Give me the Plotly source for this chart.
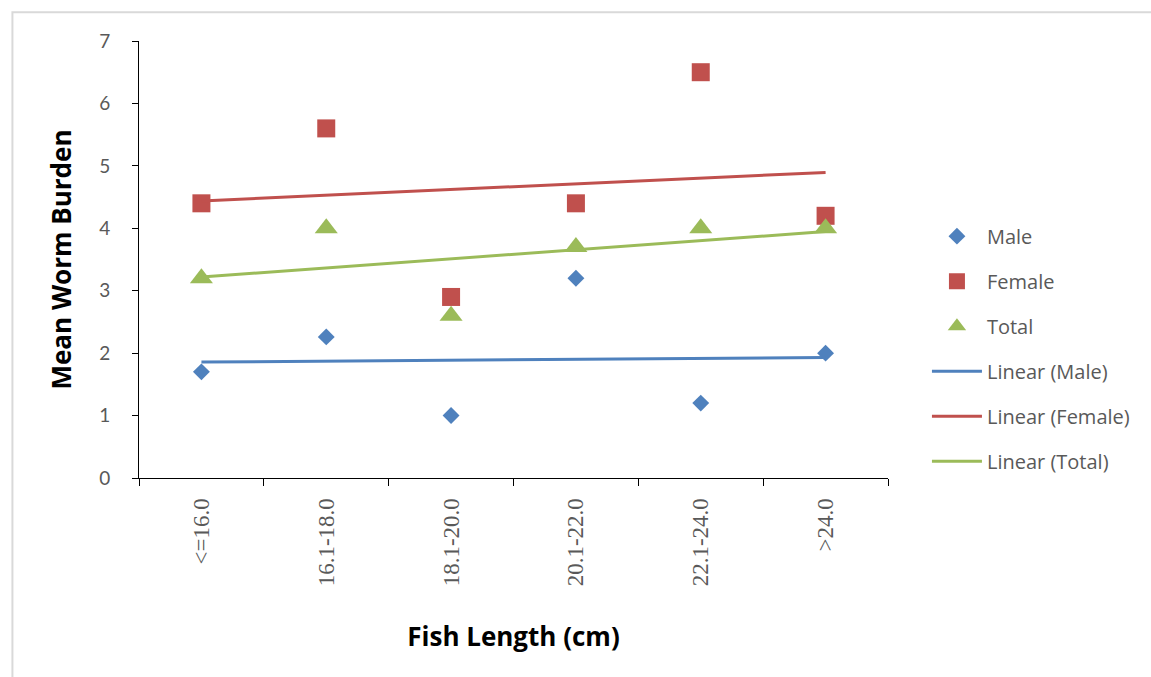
import numpy as np
import plotly.graph_objects as go

# Fish length classes (cm) and mean worm burden per sex
length_classes = ["<=16.0", "16.1-18.0", "18.1-20.0", "20.1-22.0", "22.1-24.0", ">24.0"]
male = [1.7, 2.26, 1.0, 3.2, 1.2, 2.0]
female = [4.4, 5.6, 2.9, 4.4, 6.5, 4.2]
total = [3.2, 4.0, 2.6, 3.7, 4.0, 4.0]

BLUE = "#4F81BD"
RED = "#C0504D"
GREEN = "#9BBB59"

idx = np.arange(len(length_classes))


def linear_fit(values):
    slope, intercept = np.polyfit(idx, values, 1)
    return list(slope * idx + intercept)


fig = go.Figure()

series = [
    ("Male", male, BLUE, "diamond", 13),
    ("Female", female, RED, "square", 18),
    ("Total", total, GREEN, "triangle-up", 20),
]

for i, (name, vals, col, sym, size) in enumerate(series):
    fig.add_trace(go.Scatter(
        x=length_classes, y=vals, mode="markers", name=name,
        marker=dict(symbol=sym, size=size, color=col, line=dict(width=0)),
        legendgroup=f"g{i}", legendrank=i,
    ))

for i, (name, vals, col, _, _) in enumerate(series):
    fig.add_trace(go.Scatter(
        x=length_classes, y=linear_fit(vals), mode="lines",
        name=f"Linear ({name})",
        line=dict(color=col, width=3),
        legendgroup=f"t{i}", legendrank=10 + i,
    ))

fig.update_layout(
    width=1151, height=677,
    margin=dict(l=139, r=263, t=41, b=199),
    paper_bgcolor="white", plot_bgcolor="white",
    font=dict(family="Lato, 'Liberation Sans', sans-serif", color="#595959"),
    showlegend=True,
    legend=dict(
        x=1.052, xanchor="left", y=0.598, yanchor="top",
        font=dict(family="'Open Sans', sans-serif", size=20, color="#595959"),
        tracegroupgap=16, itemwidth=50,
        bgcolor="rgba(0,0,0,0)",
    ),
    xaxis=dict(
        type="category", range=[-0.5, 5.5],
        showline=True, linecolor="#000000", linewidth=1,
        ticks="outside", tickson="boundaries", ticklen=7, tickcolor="#000000",
        tickangle=-90, ticklabelstandoff=10,
        tickfont=dict(family="'Liberation Serif', serif", size=23, color="#595959"),
        showgrid=False, zeroline=False,
        title=dict(text="<b>Fish Length (cm)</b>",
                   font=dict(family="'Open Sans', sans-serif", size=26, color="#000000"),
                   standoff=42),
    ),
    yaxis=dict(
        range=[0, 7], dtick=1,
        showline=True, linecolor="#000000", linewidth=1,
        ticks="outside", ticklen=6, tickcolor="#000000",
        ticklabelstandoff=18,
        tickfont=dict(size=19, color="#595959"),
        showgrid=False, zeroline=False,
        title=dict(text="<b>Mean Worm Burden</b>",
                   font=dict(family="'Open Sans', sans-serif", size=26, color="#000000"),
                   standoff=20),
    ),
    shapes=[dict(
        type="rect", xref="paper", yref="paper",
        x0=-0.169, x1=1.5, y0=-0.6, y1=1.066,
        line=dict(color="#D9D9D9", width=2), fillcolor="rgba(0,0,0,0)",
        layer="below",
    )],
)

fig.write_html("out.html")
